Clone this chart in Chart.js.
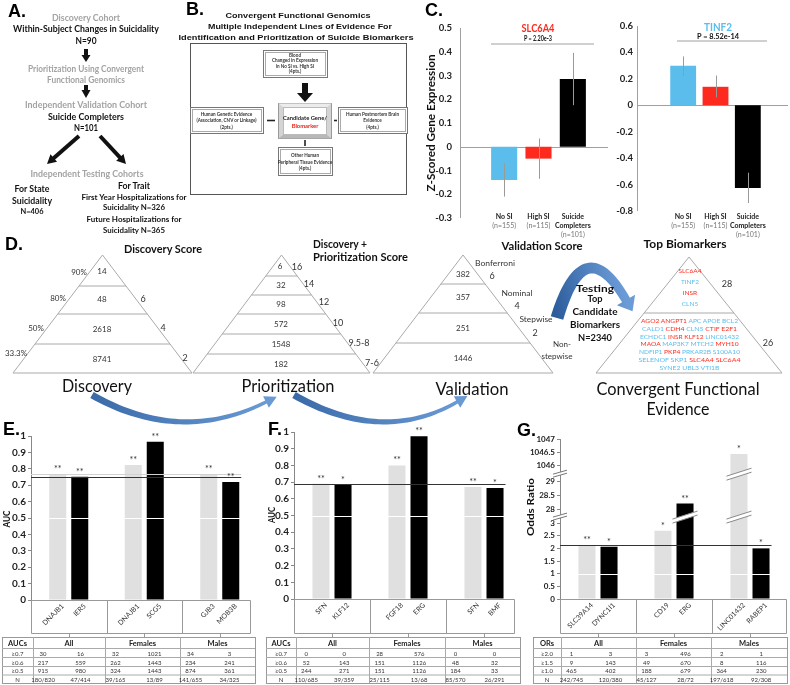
<!DOCTYPE html>
<html><head><meta charset="utf-8">
<script src="https://cdn.jsdelivr.net/npm/chart.js@4.4.1/dist/chart.umd.min.js"></script>
<style>
html,body{margin:0;padding:0;background:#fff;}
body{width:790px;height:685px;position:relative;overflow:hidden;}
canvas{position:absolute;}
#ov{position:absolute;left:0;top:0;}
</style></head><body>
<svg id="ov" width="790" height="685" xmlns="http://www.w3.org/2000/svg"></svg>
<script>
// ================= DATA =================
// Panel C
const cCategories = ['No SI', 'High SI', 'Suicide Completers'];
const cCategoryLines = [['No SI'], ['High SI'], ['Suicide', 'Completers']];
const cCategoryN = ['(n=155)', '(n=115)', '(n=101)'];
const slc6a4Mean = [-0.14, -0.05, 0.285];
const slc6a4Low = [-0.21, -0.135, 0.175];
const slc6a4High = [-0.07, 0.035, 0.395];
const tinf2Mean = [0.30, 0.14, -0.625];
const tinf2Low = [0.22, 0.06, -0.74];
const tinf2High = [0.37, 0.225, -0.51];

// Panels E/F/G
const groups = ['All', 'Females', 'Males'];
const eGenesGray = ['DNAJB1', 'DNAJB1', 'GJB3'];
const eGenesBlack = ['IER5', 'SCG5', 'MOB3B'];
const eAucGray = [0.766, 0.823, 0.766];
const eAucBlack = [0.752, 0.965, 0.72];
const eStarsGray = ['**', '**', '**'];
const eStarsBlack = ['**', '**', '**'];

const fGenesGray = ['SFN', 'FGF18', 'SFN'];
const fGenesBlack = ['KLF12', 'ERG', 'BMF'];
const fAucGray = [0.69, 0.80, 0.67];
const fAucBlack = [0.685, 0.975, 0.665];
const fStarsGray = ['**', '**', '**'];
const fStarsBlack = ['*', '**', '*'];

const gGenesGray = ['SLC39A14', 'CD19', 'LINC01432'];
const gGenesBlack = ['DYNC1I1', 'ERG', 'RABEP1'];
const gOrGray = [2.12, 2.7, 1046.42];
const gOrBlack = [2.06, 28.2, 2.0];
const gStarsGray = ['**', '*', '*'];
const gStarsBlack = ['*', '**', '*'];
const gTickValues = [0, 0.5, 1, 1.5, 2, 2.5, 3, 28, 28.5, 29, 1046, 1046.5, 1047];

// Tables
const eTableHead = ['AUCs', 'All', 'Females', 'Males'];
const eRowLabels = ['\u22650.7', '\u22650.6', '\u22650.5', 'N'];
const eRows = [[30, 16, 32, 1021, 34, 3], [217, 559, 262, 1443, 234, 241], [915, 980, 324, 1443, 874, 361], ['180/820', '47/414', '39/165', '13/89', '141/655', '34/325']];
const fTableHead = ['AUCs', 'All', 'Females', 'Males'];
const fRowLabels = ['\u22650.7', '\u22650.6', '\u22650.5', 'N'];
const fRows = [[0, 0, 28, 576, 0, 0], [52, 143, 151, 1126, 48, 32], [244, 271, 151, 1126, 184, 33], ['110/685', '39/359', '25/115', '13/68', '85/570', '26/291']];
const gTableHead = ['ORs', 'All', 'Females', 'Males'];
const gRowLabels = ['\u22652.0', '\u22651.5', '\u22651.0', 'N'];
const gRows = [[1, 3, 3, 496, 2, 1], [9, 143, 49, 670, 8, 116], [465, 402, 188, 679, 364, 230], ['242/745', '120/380', '45/127', '28/72', '197/618', '92/308']];

// Panel D
const discLevels = ['14', '48', '2618', '8741'];
const discPct = ['90%', '80%', '50%', '33.3%'];
const discScore = ['6', '4', '2'];
const prioLevels = ['6', '32', '98', '572', '1548', '182'];
const prioScore = ['16', '14', '12', '10', '9.5-8', '7-6'];
const valLevels = ['382', '357', '251', '1446'];
const valNames = ['Bonferroni', 'Nominal', 'Stepwise'];
const valScore = ['6', '4', '2'];
const topFour = [['SLC6A4', 'r'], ['TINF2', 'b'], ['INSR', 'r'], ['CLN5', 'b']];
const topGeneLines = [
  [['AGO2', 'r'], ['ANGPT1', 'r'], ['APC', 'b'], ['APOE', 'b'], ['BCL2', 'b']],
  [['CALD1', 'b'], ['CDH4', 'r'], ['CLN5', 'b'], ['CTIF', 'r'], ['E2F1', 'r']],
  [['ECHDC1', 'b'], ['INSR', 'r'], ['KLF12', 'r'], ['LINC01432', 'b']],
  [['MAOA', 'r'], ['MAP3K7', 'b'], ['MTCH2', 'b'], ['MYH10', 'r']],
  [['NDFIP1', 'b'], ['PKP4', 'r'], ['PRKAR2B', 'b'], ['S100A10', 'b']],
  [['SELENOF', 'b'], ['SKP1', 'b'], ['SLC4A4', 'r'], ['SLC6A4', 'r']],
  [['SYNE2', 'b'], ['UBL3', 'b'], ['VTI1B', 'b']]
];

// ================= HELPERS =================
const RED = '#ff2a1e', BLUE = '#5bbdec', GRAYTXT = '#a3a3a3';
const FA = 'Liberation Sans, Arial, sans-serif';
const FC = 'Lato, sans-serif';
const svg = document.getElementById('ov');
const NS = 'http://www.w3.org/2000/svg';
function el(tag, attrs, parent) {
  const e = document.createElementNS(NS, tag);
  for (const k in attrs) e.setAttribute(k, attrs[k]);
  (parent || svg).appendChild(e); return e;
}
function txt(x, y, s, o) {
  o = o || {};
  const e = el('text', {x: x, y: y, 'font-family': o.f || FC, 'font-size': o.s || 8, 'font-weight': o.w || 'normal',
    fill: o.c || '#222', 'text-anchor': o.a || 'middle', 'dominant-baseline': 'central'});
  if (o.len) { e.setAttribute('textLength', o.len); e.setAttribute('lengthAdjust', 'spacingAndGlyphs'); }
  if (o.rot) e.setAttribute('transform', 'rotate(' + o.rot + ' ' + x + ' ' + y + ')');
  e.textContent = s; return e;
}
function line(x1, y1, x2, y2, c, w) { return el('line', {x1: x1, y1: y1, x2: x2, y2: y2, stroke: c || '#999', 'stroke-width': w || 1}); }
function rect(x, y, w, h, o) { o = o || {}; return el('rect', {x: x, y: y, width: w, height: h, fill: o.fill || 'none', stroke: o.stroke || 'none', 'stroke-width': o.sw || 1}); }
function poly(pts, fill) { return el('polygon', {points: pts.map(p => p.join(',')).join(' '), fill: fill}); }
function arrowLine(x1, y1, x2, y2, w, hl, hw) {
  const dx = x2 - x1, dy = y2 - y1, L = Math.hypot(dx, dy), ux = dx / L, uy = dy / L, nx = -uy, ny = ux;
  const bx = x2 - ux * hl, by = y2 - uy * hl;
  line(x1, y1, bx + ux, by + uy, '#111', w);
  poly([[x2, y2], [bx + nx * hw / 2, by + ny * hw / 2], [bx - nx * hw / 2, by - ny * hw / 2]], '#111');
}
let gradN = 0;
function ribbon(p0, pc, p1, w0, w1, hl, hw, c0, c1) {
  const id = 'g' + (gradN++);
  const defs = el('defs', {});
  const lg = el('linearGradient', {id: id, gradientUnits: 'userSpaceOnUse', x1: p0[0], y1: p0[1], x2: p1[0], y2: p1[1]}, defs);
  el('stop', {offset: '0', 'stop-color': c0}, lg); el('stop', {offset: '1', 'stop-color': c1}, lg);
  const N = 40, top = [], bot = [];
  for (let i = 0; i <= N; i++) {
    const t = i / N, mt = 1 - t;
    const x = mt * mt * p0[0] + 2 * mt * t * pc[0] + t * t * p1[0];
    const y = mt * mt * p0[1] + 2 * mt * t * pc[1] + t * t * p1[1];
    const dx = 2 * mt * (pc[0] - p0[0]) + 2 * t * (p1[0] - pc[0]);
    const dy = 2 * mt * (pc[1] - p0[1]) + 2 * t * (p1[1] - pc[1]);
    const L = Math.hypot(dx, dy), nx = -dy / L, ny = dx / L, w = (w0 + (w1 - w0) * t) / 2;
    top.push([x + nx * w, y + ny * w]); bot.push([x - nx * w, y - ny * w]);
  }
  const dx = p1[0] - pc[0], dy = p1[1] - pc[1], L = Math.hypot(dx, dy), ux = dx / L, uy = dy / L, nx = -uy, ny = ux;
  const tip = [p1[0] + ux * hl, p1[1] + uy * hl];
  const pts = top.concat([[p1[0] + nx * hw / 2, p1[1] + ny * hw / 2], tip, [p1[0] - nx * hw / 2, p1[1] - ny * hw / 2]]).concat(bot.reverse());
  poly(pts, 'url(#' + id + ')');
}

// ================= PANEL A =================
txt(8, 11, 'A.', {f: FA, s: 18, w: 'bold', c: '#000', a: 'start'});
txt(86, 17, 'Discovery Cohort', {s: 9, w: 'bold', c: GRAYTXT, len: 68});
txt(86, 28, 'Within-Subject Changes in Suicidality', {s: 9, w: 'bold', c: '#111', len: 146});
txt(86, 40, 'N=90', {s: 9, w: 'bold', c: '#111', len: 21});
rect(84, 49, 4, 7, {fill: '#111'}); poly([[81.5, 55], [90.5, 55], [86, 62]], '#111');
txt(86, 68, 'Prioritization Using Convergent', {s: 9, w: 'bold', c: GRAYTXT, len: 116});
txt(86, 79, 'Functional Genomics', {s: 9, w: 'bold', c: GRAYTXT, len: 78});
rect(84, 85, 4, 6, {fill: '#111'}); poly([[81.5, 90], [90.5, 90], [86, 98]], '#111');
txt(86, 104, 'Independent Validation Cohort', {s: 9, w: 'bold', c: GRAYTXT, len: 122});
txt(86, 116, 'Suicide Completers', {s: 9, w: 'bold', c: '#111', len: 76});
txt(86, 127, 'N=101', {s: 9, w: 'bold', c: '#111', len: 24});
arrowLine(79, 136, 47, 164, 4, 9, 10);
arrowLine(100, 136, 126, 164, 4, 9, 10);
txt(87, 173, 'Independent Testing Cohorts', {s: 9, w: 'bold', c: GRAYTXT, len: 113});
txt(32, 188, 'For State', {s: 9, w: 'bold', c: '#111', len: 35});
txt(32, 200, 'Suicidality', {s: 9, w: 'bold', c: '#111', len: 40});
txt(32, 211, 'N=406', {s: 7.5, w: 'bold', c: '#111', len: 23});
txt(134, 185, 'For Trait', {s: 9, w: 'bold', c: '#111', len: 32});
txt(134, 197, 'First Year Hospitalizations for', {s: 7.5, w: 'bold', c: '#111', len: 105});
txt(134, 207, 'Suicidality N=326', {s: 7.5, w: 'bold', c: '#111', len: 62});
txt(134, 219, 'Future Hospitalizations for', {s: 7.5, w: 'bold', c: '#111', len: 95});
txt(134, 230, 'Suicidality N=365', {s: 7.5, w: 'bold', c: '#111', len: 62});

// ================= PANEL B =================
txt(186, 9, 'B.', {f: FA, s: 18, w: 'bold', c: '#000', a: 'start'});
txt(298, 15, 'Convergent Functional Genomics', {f: FA, s: 8, w: 'bold', c: '#111', len: 145});
txt(300, 26, 'Multiple Independent Lines of Evidence For', {f: FA, s: 8, w: 'bold', c: '#111', len: 184});
txt(296, 37, 'Identification and Prioritization of Suicide Biomarkers', {f: FA, s: 8, w: 'bold', c: '#111', len: 235});
rect(190.5, 43.5, 216, 151, {stroke: '#555'});
function box3d(x, y, w, h) { rect(x + .5, y + .5, w, h, {fill: '#fff', stroke: '#777'}); rect(x + 2.5, y + 2.5, w - 4, h - 4, {stroke: '#aaa'}); }
function tiny(cx, y0, lines, dy) { lines.forEach((s, i) => txt(cx, y0 + i * dy, s, {s: 4.6, c: '#333', w: 'bold'})); }
box3d(263, 50, 64, 27); tiny(295, 54.5, ['Blood', 'Changed in Expression', 'in No SI vs. High SI', '(4pts.)'], 5.5);
rect(302, 83, 6, 11, {fill: '#111'}); poly([[297, 93], [313, 93], [305, 102]], '#111');
rect(278.5, 103.5, 53, 35, {fill: '#d4d4d4', stroke: '#999'});
poly([[278.5, 103.5], [331.5, 103.5], [326.5, 107.5], [283.5, 107.5]], '#ececec');
poly([[278.5, 138.5], [331.5, 138.5], [326.5, 134.5], [283.5, 134.5]], '#b8b8b8');
rect(283.5, 107.5, 43, 27, {fill: '#fff', stroke: '#bbb'});
txt(305, 117, 'Candidate Gene/', {s: 5.8, w: 'bold', c: '#222'});
txt(305, 125, 'Biomarker', {s: 5.8, w: 'bold', c: '#e8201a'});
box3d(190, 107, 73, 26); tiny(226.5, 114, ['Human Genetic Evidence', '(Association, CNV or Linkage)', '(2pts.)'], 6.3);
box3d(338, 107, 69, 26); tiny(372.5, 114, ['Human Postmortem Brain', 'Evidence', '(4pts.)'], 6.3);
box3d(278, 147, 54, 28); tiny(305, 155, ['Other Human', 'Peripheral Tissue  Evidence', '(4pts.)'], 6.5);
line(267, 120.5, 275, 120.5, '#222', 1.6);
line(334, 120.5, 337, 120.5, '#222', 1.6);
line(305, 140, 305, 146, '#222', 1.6);

// ================= PANEL C texts =================
txt(425, 10, 'C.', {f: FA, s: 18, w: 'bold', c: '#000', a: 'start'});
txt(538, 27, 'SLC6A4', {f: FC, s: 12, w: 'bold', c: RED, len: 33});
txt(538, 37.5, 'P = 2.20e-3', {f: FC, s: 7, w: 'bold', c: '#111', len: 28});
line(491, 44, 594, 44, '#a0a0a0', 1);
txt(718, 26, 'TINF2', {f: FC, s: 12, w: 'bold', c: BLUE, len: 28});
txt(718, 35.5, 'P = 8.52e-14', {f: FC, s: 7, w: 'bold', c: '#111', len: 42});
line(677, 41, 767, 41, '#a0a0a0', 1);
txt(430, 123, 'Z-Scored Gene Expression', {f: FC, s: 11, w: 'bold', c: '#111', len: 137, rot: -90});

// ================= PANEL D =================
txt(5, 244, 'D.', {f: FA, s: 18, w: 'bold', c: '#000', a: 'start'});
txt(163, 248, 'Discovery Score', {s: 12, w: 'bold', c: '#111', len: 78});
txt(313, 243, 'Discovery +', {s: 12, w: 'bold', c: '#111', a: 'start', len: 54});
txt(313, 256, 'Prioritization Score', {s: 12, w: 'bold', c: '#111', a: 'start', len: 95});
txt(542, 245, 'Validation Score', {s: 12, w: 'bold', c: '#111', len: 81});
txt(685, 243, 'Top Biomarkers', {s: 12, w: 'bold', c: '#111', len: 83});
function tri(ax, ay, by, hw, ys) {
  el('polygon', {points: [[ax, ay], [ax - hw, by], [ax + hw, by]].map(p => p.join(',')).join(' '), fill: 'none', stroke: '#aaa', 'stroke-width': 1});
  ys.forEach(y => { const d = hw * (y - ay) / (by - ay); line(ax - d, y, ax + d, y, '#aaa', 1); });
}
tri(102.5, 255, 373, 89.5, [286, 314, 344]);
tri(281.5, 255, 373, 88.5, [276, 295, 314, 334, 354]);
tri(463, 255, 373, 90, [284, 313, 343]);
tri(689, 257, 373, 93, [313]);
const NUMC = '#333';
[271, 299, 329, 359].forEach((y, i) => txt(102, y, discLevels[i], {s: 8, c: NUMC}));
[[79, 272], [58, 298], [36, 328], [16, 353]].forEach((p, i) => txt(p[0], p[1], discPct[i], {s: 8, c: NUMC}));
[[143, 298], [163, 327], [185, 357]].forEach((p, i) => txt(p[0], p[1], discScore[i], {s: 9, c: NUMC}));
[266, 285, 304, 324, 344, 364].forEach((y, i) => txt(i === 0 ? 280 : 281, y, prioLevels[i], {s: 8, c: NUMC}));
[[297, 266], [309, 283], [324, 301], [338, 322], [359, 342], [372, 362]].forEach((p, i) => txt(p[0], p[1], prioScore[i], {s: 9, c: NUMC}));
[274, 297, 328, 358].forEach((y, i) => txt(463, y, valLevels[i], {s: 8, c: NUMC}));
[[495, 263, 40], [517, 293, 31], [536, 319, 33]].forEach((p, i) => txt(p[0], p[1], valNames[i], {s: 8, c: NUMC, len: p[2]}));
[[492, 275], [517, 305], [535, 332]].forEach((p, i) => txt(p[0], p[1], valScore[i], {s: 9, c: NUMC}));
txt(562, 344, 'Non-', {s: 8, c: NUMC, len: 18});
txt(557, 356, 'stepwise', {s: 8, c: NUMC, len: 31});
[270, 281, 292, 303].forEach((y, i) => txt(690, y, topFour[i][0], {s: 6.5, c: topFour[i][1] === 'r' ? RED : BLUE}));
txt(727, 283, '28', {s: 9, c: NUMC});
txt(768, 342, '26', {s: 9, c: NUMC});
const lineLens = [97, 95, 99, 98, 101, 102, 60];
[320, 328, 335.5, 343, 351, 359, 367].forEach((y, li) => {
  const t = el('text', {x: 689.5, y: y, 'text-anchor': 'middle', 'dominant-baseline': 'central', 'font-family': FC, 'font-size': 6.5, textLength: lineLens[li], lengthAdjust: 'spacingAndGlyphs'});
  topGeneLines[li].forEach((w, i) => { const s = el('tspan', {fill: w[1] === 'r' ? RED : BLUE}, t); s.textContent = (i ? ' ' : '') + w[0]; });
});
ribbon([557, 318], [584, 228], [626, 300], 13, 9, 13, 21, '#2d5d9c', '#6b9bd6');
txt(595, 288, 'Testing', {s: 10, w: 'bold', c: '#111', len: 38});
txt(595, 298, 'Top', {s: 10, w: 'bold', c: '#111', len: 15});
txt(595, 311, 'Candidate', {s: 10, w: 'bold', c: '#111', len: 45});
txt(595, 324, 'Biomarkers', {s: 10, w: 'bold', c: '#111', len: 50});
txt(595, 337, 'N=2340', {s: 10, w: 'bold', c: '#111', len: 34});
txt(97, 385, 'Discovery', {s: 17, c: '#111', len: 70});
txt(288, 385, 'Prioritization', {s: 17, c: '#111', len: 93});
txt(472, 388, 'Validation', {s: 17, c: '#111', len: 73});
txt(678, 388, 'Convergent Functional', {s: 17, c: '#111', len: 163});
txt(678, 408, 'Evidence', {s: 17, c: '#111', len: 63});
ribbon([92, 395], [180, 445], [266, 402], 7, 3.5, 12, 13, '#3a6aa8', '#6a9ad4');
ribbon([294, 395], [382, 445], [457, 402], 7, 3.5, 12, 13, '#3a6aa8', '#6a9ad4');

// ================= PANEL E/F/G labels =================
txt(3, 429, 'E.', {f: FA, s: 18, w: 'bold', c: '#000', a: 'start'});
txt(268, 429, 'F.', {f: FA, s: 18, w: 'bold', c: '#000', a: 'start'});
txt(517, 430, 'G.', {f: FA, s: 18, w: 'bold', c: '#000', a: 'start'});
txt(6, 519, 'AUC', {s: 10, w: 'bold', c: '#111', len: 17, rot: -90});
txt(271, 515, 'AUC', {s: 10, w: 'bold', c: '#111', len: 16, rot: -90});
txt(530, 507, 'Odds Ratio', {s: 10, w: 'bold', c: '#111', len: 58, rot: -90});

// ================= TABLES =================
function drawTable(cols, rowsY, head, labels, rows) {
  const x0 = cols[0], x1 = cols[cols.length - 1], y0 = rowsY[0], y1 = rowsY[rowsY.length - 1];
  rect(x0 + .5, y0 + .5, x1 - x0, y1 - y0, {stroke: '#999'});
  rowsY.slice(1, -1).forEach(y => line(x0, y + .5, x1, y + .5, '#aaa', 1));
  cols.slice(1, -1).forEach(x => line(x + .5, y0, x + .5, y1, '#aaa', 1));
  const hy = (rowsY[0] + rowsY[1]) / 2 + .5;
  head.forEach((h, i) => txt((cols[i] + cols[i + 1]) / 2, hy, h, {s: 7.5, w: 'bold', c: '#222'}));
  labels.forEach((lb, r) => {
    const yy = (rowsY[r + 1] + rowsY[r + 2]) / 2 + .5;
    txt((cols[0] + cols[1]) / 2, yy, lb, {s: 6, c: '#333'});
    rows[r].forEach((v, k) => {
      const g = Math.floor(k / 2), gx = cols[g + 1], gw = cols[g + 2] - cols[g + 1];
      const cx = gx + gw * (k % 2 === 0 ? 0.14 : 0.66);
      txt(cx, yy, String(v), {s: 6, c: '#333'});
    });
  });
}
const tRows = [637, 648, 657, 666, 674.5, 683];
drawTable([2, 33, 105, 180, 255], tRows, eTableHead, eRowLabels, eRows);
drawTable([266, 296, 369, 445, 520], tRows, fTableHead, fRowLabels, fRows);
drawTable([533, 561, 636, 711, 787], tRows, gTableHead, gRowLabels, gRows);

// ================= CHARTS =================
Chart.defaults.font.family = 'Lato, sans-serif';
Chart.defaults.animation = false;
Chart.defaults.events = [];
Chart.defaults.plugins.legend.display = false;
Chart.defaults.plugins.tooltip.enabled = false;

function mkCanvas(left, top, w, h) {
  const c = document.createElement('canvas');
  c.width = w; c.height = h;
  c.style.left = left + 'px'; c.style.top = top + 'px'; c.style.width = w + 'px'; c.style.height = h + 'px';
  document.body.insertBefore(c, svg); return c;
}

function zChart(cfg) {
  const cv = mkCanvas(cfg.left, cfg.top, cfg.w, cfg.h);
  const plugin = {
    id: 'z' + cfg.left,
    beforeDatasetsDraw(chart) {
      const ctx = chart.ctx, a = chart.chartArea, y = chart.scales.y;
      const ax = Math.round(a.left - cfg.axisGap) + .5;
      ctx.save(); ctx.strokeStyle = '#a0a0a0'; ctx.lineWidth = 1;
      ctx.beginPath(); ctx.moveTo(ax, a.top); ctx.lineTo(ax, a.bottom); ctx.stroke();
      const y0 = Math.round(y.getPixelForValue(0)) + .5;
      ctx.beginPath(); ctx.moveTo(ax, y0); ctx.lineTo(a.right + cfg.zeroExt, y0); ctx.stroke();
      ctx.restore();
    },
    afterDatasetsDraw(chart) {
      const ctx = chart.ctx, y = chart.scales.y, meta = chart.getDatasetMeta(0);
      ctx.save(); ctx.strokeStyle = '#9a9a9a'; ctx.lineWidth = 1;
      meta.data.forEach((bar, i) => {
        const x = Math.round(bar.x) + .5;
        ctx.beginPath(); ctx.moveTo(x, y.getPixelForValue(cfg.low[i])); ctx.lineTo(x, y.getPixelForValue(cfg.high[i])); ctx.stroke();
      });
      ctx.textAlign = 'center'; ctx.textBaseline = 'middle';
      meta.data.forEach((bar, i) => {
        let yy = chart.height - cfg.labelFromBottom;
        ctx.font = 'bold 7px Lato'; ctx.fillStyle = '#222';
        cCategoryLines[i].forEach(s => { ctx.fillText(s, bar.x, yy); yy += 9; });
        ctx.font = '7px Lato'; ctx.fillStyle = '#777';
        ctx.fillText(cCategoryN[i], bar.x, yy);
      });
      ctx.restore();
    }
  };
  new Chart(cv, {
    type: 'bar',
    data: {labels: cCategories, datasets: [{data: cfg.mean, backgroundColor: [BLUE, RED, '#000'], barPercentage: cfg.barPct, categoryPercentage: 1}]},
    options: {
      responsive: false, animation: false,
      layout: {padding: {top: cfg.padTop, right: cfg.padRight, bottom: 0, left: 0}},
      scales: {
        x: {ticks: {display: false}, grid: {display: false}, border: {display: false}, afterFit(s) { s.height = cfg.xH; }},
        y: {min: cfg.min, max: cfg.max,
          ticks: {stepSize: cfg.step, autoSkip: false, padding: cfg.tickPad, color: '#222', font: {size: 9.5, weight: 'bold'}, callback: v => String(Math.round(v * 10) / 10)},
          grid: {display: false, drawTicks: false}, border: {display: false},
          afterFit(s) { s.width = cfg.yW; s.paddingTop = 6; s.paddingBottom = 6; }}
      }
    },
    plugins: [plugin]
  });
}
zChart({left: 421, top: 18, w: 189, h: 225, padTop: 10, padRight: 20, yW: 66, xH: 25, axisGap: 27, zeroExt: 18, tickPad: 35,
  min: -0.3, max: 0.5, step: 0.1, barPct: 0.76, mean: slc6a4Mean, low: slc6a4Low, high: slc6a4High, labelFromBottom: 26});
zChart({left: 612, top: 18, w: 176, h: 225, padTop: 8, padRight: 24, yW: 55, xH: 32, axisGap: 30, zeroExt: 24, tickPad: 34,
  min: -0.8, max: 0.6, step: 0.2, barPct: 0.8, mean: tinf2Mean, low: tinf2Low, high: tinf2High, labelFromBottom: 26});

// Broken axis mapping for panel G
const gSegments = [{from: 0, to: 3.2, base: 0, at: 0, k: 1}, {from: 27.8, to: 29.2, base: 28, at: 3.55, k: 1.1}, {from: 1045.8, to: 1047.2, base: 1046, at: 5.29, k: 1.03}];
function gMap(v) { const s = gSegments.find(sg => v >= sg.from && v <= sg.to) || gSegments[0]; return s.at + (v - s.base) * s.k; }
const gBreaks = [(gMap(3) + gMap(28)) / 2, (gMap(29) + gMap(1046)) / 2];

function aucChart(cfg) {
  const cv = mkCanvas(cfg.left, cfg.top, cfg.w, cfg.h);
  const map = cfg.map || (v => v);
  const plugin = {
    id: 'auc' + cfg.left,
    afterDatasetsDraw(chart) {
      const ctx = chart.ctx, a = chart.chartArea, x = chart.scales.x, y = chart.scales.y;
      const m0 = chart.getDatasetMeta(0).data, m1 = chart.getDatasetMeta(1).data;
      const last = m1[m1.length - 1], lineEnd = last.x + last.width / 2 + 2;
      ctx.save(); ctx.lineWidth = 1;
      let yy = Math.round(y.getPixelForValue(map(cfg.whiteLine))) + .5;
      ctx.strokeStyle = '#fff'; ctx.beginPath(); ctx.moveTo(a.left + 1, yy); ctx.lineTo(a.right, yy); ctx.stroke();
      if (cfg.lightLine != null) {
        yy = Math.round(y.getPixelForValue(cfg.lightLine)) + .5;
        ctx.strokeStyle = '#d2d2d2'; ctx.beginPath(); ctx.moveTo(a.left, yy); ctx.lineTo(lineEnd, yy); ctx.stroke();
      }
      yy = Math.round(y.getPixelForValue(map(cfg.threshold))) + .5;
      ctx.strokeStyle = '#333'; ctx.lineWidth = 1.2; ctx.beginPath(); ctx.moveTo(a.left, yy); ctx.lineTo(lineEnd, yy); ctx.stroke();
      ctx.lineWidth = 1;
      if (cfg.breaks) {
        cfg.breaks.forEach(bv => {
          const by = y.getPixelForValue(bv);
          const bars = m0.concat(m1).filter(b => b.y < by - 4);
          bars.forEach(b => {
            const x0 = b.x - b.width / 2 - 4, x1 = b.x + b.width / 2 + 4;
            ctx.fillStyle = '#fff'; ctx.beginPath();
            ctx.moveTo(x0, by + 3); ctx.lineTo(x1, by - 5); ctx.lineTo(x1, by - 1); ctx.lineTo(x0, by + 7); ctx.closePath(); ctx.fill();
            ctx.strokeStyle = '#8a8a8a'; ctx.beginPath(); ctx.moveTo(x0, by + 3); ctx.lineTo(x1, by - 5); ctx.moveTo(x0, by + 7); ctx.lineTo(x1, by - 1); ctx.stroke();
          });
          const ax = a.left;
          ctx.fillStyle = '#fff'; ctx.beginPath();
          ctx.moveTo(ax - 7, by + 1); ctx.lineTo(ax + 7, by - 3); ctx.lineTo(ax + 7, by); ctx.lineTo(ax - 7, by + 4); ctx.closePath(); ctx.fill();
          ctx.strokeStyle = '#777'; ctx.beginPath(); ctx.moveTo(ax - 7, by + 1); ctx.lineTo(ax + 7, by - 3); ctx.moveTo(ax - 7, by + 4); ctx.lineTo(ax + 7, by); ctx.stroke();
        });
      }
      ctx.font = '9px Lato'; ctx.fillStyle = '#333'; ctx.textAlign = 'center'; ctx.textBaseline = 'alphabetic';
      m0.forEach((b, i) => ctx.fillText(cfg.starsGray[i], b.x, b.y - 2));
      m1.forEach((b, i) => ctx.fillText(cfg.starsBlack[i], b.x, b.y - 2));
      const boxB = Math.round(a.bottom + cfg.boxH) + .5, boxR = Math.round(a.right - cfg.boxInset) + .5, L = Math.round(a.left) + .5, B = Math.round(a.bottom) + .5;
      const catW = x.getPixelForValue(1) - x.getPixelForValue(0);
      ctx.strokeStyle = '#999'; ctx.beginPath();
      ctx.moveTo(L, B); ctx.lineTo(boxR, B);
      ctx.moveTo(L, B); ctx.lineTo(L, boxB); ctx.lineTo(boxR, boxB); ctx.lineTo(boxR, B);
      for (let i = 0; i < groups.length - 1; i++) { const gx = Math.round(x.getPixelForValue(i) + catW / 2) + .5; ctx.moveTo(gx, B); ctx.lineTo(gx, boxB); }
      for (let i = 0; i < groups.length; i++) { const gx = Math.round(x.getPixelForValue(i)) + .5; ctx.moveTo(gx, boxB); ctx.lineTo(gx, boxB + 4); }
      ctx.stroke();
      ctx.font = '7px Lato'; ctx.fillStyle = '#333'; ctx.textAlign = 'right'; ctx.textBaseline = 'middle';
      const lab = (b, s) => { ctx.save(); ctx.translate(b.x + 5, a.bottom + 5); ctx.rotate(-Math.PI / 4); ctx.fillText(s, 0, 0); ctx.restore(); };
      m0.forEach((b, i) => lab(b, cfg.genesGray[i]));
      m1.forEach((b, i) => lab(b, cfg.genesBlack[i]));
      ctx.restore();
    }
  };
  const yScale = {min: cfg.min, max: cfg.max,
    ticks: {stepSize: cfg.step, autoSkip: false, padding: 2, color: '#222', font: {size: cfg.tickSize, weight: 'bold'},
      callback: cfg.tickLabel || (v => String(Math.round(v * 10) / 10))},
    grid: {display: true, drawOnChartArea: false, drawTicks: true, tickLength: 3, color: '#888'},
    border: {display: true, color: '#888'},
    afterFit(s) { s.width = cfg.yW; }};
  if (cfg.tickValues) yScale.afterBuildTicks = s => { s.ticks = cfg.tickValues.map(v => ({value: map(v)})); };
  new Chart(cv, {
    type: 'bar',
    data: {labels: groups, datasets: [
      {data: cfg.gray.map(map), backgroundColor: '#e0e0e0', barPercentage: cfg.barPct, categoryPercentage: cfg.catPct},
      {data: cfg.black.map(map), backgroundColor: '#000', barPercentage: cfg.barPct, categoryPercentage: cfg.catPct}]},
    options: {
      responsive: false, animation: false,
      layout: {padding: {top: cfg.padTop, right: cfg.padRight, bottom: 0, left: 0}},
      scales: {
        x: {ticks: {display: false}, grid: {display: false}, border: {display: false}, afterFit(s) { s.height = cfg.xH; }},
        y: yScale
      }
    },
    plugins: [plugin]
  });
}
aucChart({left: 0, top: 426, w: 258, h: 212, yW: 31, padTop: 10, padRight: 0.5, xH: 38, min: 0, max: 1, step: 0.1, tickSize: 10,
  catPct: 0.583, barPct: 0.773, gray: eAucGray, black: eAucBlack, starsGray: eStarsGray, starsBlack: eStarsBlack,
  genesGray: eGenesGray, genesBlack: eGenesBlack, whiteLine: 0.5, lightLine: 0.766, threshold: 0.752, boxH: 33, boxInset: 7.5});
aucChart({left: 263, top: 422, w: 259, h: 216, yW: 31, padTop: 10, padRight: 0, xH: 39, min: 0, max: 1, step: 0.1, tickSize: 10,
  catPct: 0.58, barPct: 0.773, gray: fAucGray, black: fAucBlack, starsGray: fStarsGray, starsBlack: fStarsBlack,
  genesGray: fGenesGray, genesBlack: fGenesBlack, whiteLine: 0.5, threshold: 0.69, boxH: 34, boxInset: 8});
aucChart({left: 525, top: 429, w: 263, h: 209, yW: 35, padTop: 10, padRight: 0, xH: 39, min: 0, max: gMap(1047), step: 0.5, tickSize: 8,
  catPct: 0.58, barPct: 0.773, gray: gOrGray, black: gOrBlack, starsGray: gStarsGray, starsBlack: gStarsBlack,
  genesGray: gGenesGray, genesBlack: gGenesBlack, whiteLine: 1, threshold: 2.13, boxH: 34, boxInset: 2,
  map: gMap, tickValues: gTickValues, tickLabel: (v, i) => String(gTickValues[i]), breaks: gBreaks});
</script>
</body></html>
